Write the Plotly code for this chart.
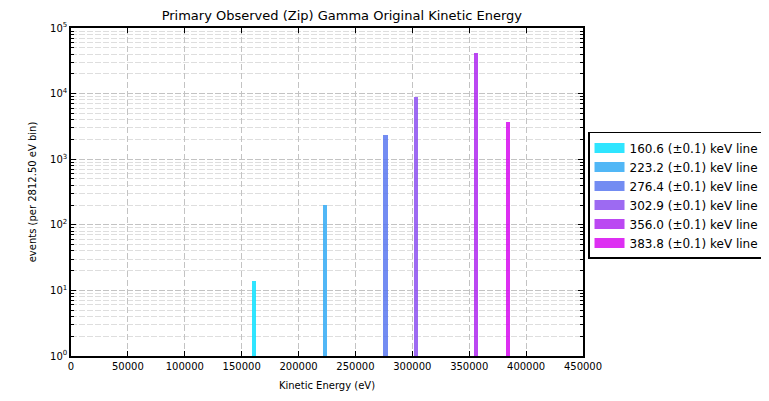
import plotly.graph_objects as go

line_labels = ["160.6", "223.2", "276.4", "302.9", "356.0", "383.8"]
energies_ev = [160600, 223200, 276400, 302900, 356000, 383800]
counts = [14, 200, 2300, 8900, 42000, 3700]
colors = ["rgba(10,225,255,0.85)", "rgba(50,170,245,0.85)", "rgba(90,120,240,0.85)",
          "rgba(140,80,240,0.85)", "rgba(175,40,240,0.85)", "rgba(215,10,240,0.85)"]
bin_width = 2812.5
y_tickvals = [1, 10, 100, 1000, 10000, 100000]
y_ticktext = [f"10<sup>{i}</sup>" for i in range(6)]
x_tickvals = [0, 50000, 100000, 150000, 200000, 250000, 300000, 350000, 400000, 450000]

fig = go.Figure()
for lab, e, c, col in zip(line_labels, energies_ev, counts, colors):
    name = f"{lab} (<span style='font-family:DejaVu Serif'>±0.1</span>) keV line"
    fig.add_trace(go.Bar(
        x=[e], y=[c], width=[bin_width * 1.3],
        marker=dict(color=col, line=dict(width=0)),
        name=name, legendgroup=lab, showlegend=False,
    ))
    # legend swatch (wide rectangle like the reference)
    fig.add_trace(go.Scatter(
        x=[None], y=[None], mode="lines", line=dict(color=col, width=10),
        name=name, legendgroup=lab, showlegend=True, hoverinfo="skip",
    ))

major_grid = "rgb(195,195,195)"
minor_grid = "rgb(222,222,222)"
fig.update_layout(
    width=761, height=393,
    margin=dict(l=63, r=186, t=20, b=45, autoexpand=False),
    paper_bgcolor="white", plot_bgcolor="white",
    font=dict(family="DejaVu Sans", size=10, color="black"),
    title=dict(text="Primary Observed (Zip) Gamma Original Kinetic Energy",
               x=0.529, xref="paper", xanchor="center", y=0.98, yanchor="middle",
               font=dict(size=13)),
    barmode="overlay",
    showlegend=True,
    legend=dict(x=1.0098, y=0.683, xanchor="left", yanchor="top",
                bordercolor="black", borderwidth=1.5, font=dict(size=12),
                tracegroupgap=0, itemwidth=30),
    bargap=0,
)
fig.update_xaxes(
    range=[0, 450000], tickvals=x_tickvals, ticktext=[str(v) for v in x_tickvals],
    showline=True, linecolor="black", linewidth=1.5, mirror="ticks",
    ticks="inside", ticklen=5, tickcolor="black", automargin=False,
    showgrid=True, gridcolor=major_grid, griddash="6px,3px", gridwidth=1,
    zeroline=False, title=dict(text="Kinetic Energy (eV)", font=dict(size=10), standoff=11),
    tickfont=dict(size=10),
)
fig.update_yaxes(
    type="log", range=[0, 5], tickvals=y_tickvals, ticktext=y_ticktext,
    showline=True, linecolor="black", linewidth=1.5, mirror="ticks",
    ticks="inside", ticklen=5, tickcolor="black", automargin=False,
    showgrid=True, gridcolor=major_grid, griddash="6px,2px", gridwidth=1,
    minor=dict(ticks="inside", ticklen=3, tickcolor="black", showgrid=True,
               gridcolor=minor_grid, griddash="6px,2px", dtick="D1"),
    title=dict(text="events (per 2812.50 eV bin)", font=dict(size=10), standoff=12),
    tickfont=dict(size=10),
    zeroline=False,
)
fig.write_html("out.html")
